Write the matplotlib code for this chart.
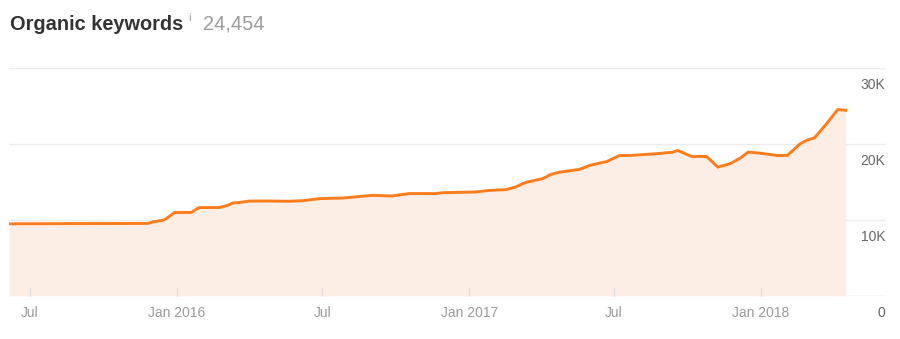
import matplotlib
matplotlib.use("Agg")
import matplotlib.pyplot as plt
import matplotlib.transforms as mtransforms
import pandas as pd

# organic keyword count
dates = ["2015-06-05", "2015-11-26", "2015-12-02", "2015-12-15", "2015-12-19",
         "2015-12-29", "2016-01-19", "2016-01-29", "2016-02-23", "2016-03-05",
         "2016-03-11", "2016-03-19", "2016-04-01", "2016-04-26", "2016-05-21",
         "2016-06-07", "2016-06-28", "2016-07-27", "2016-09-02", "2016-09-25",
         "2016-10-18", "2016-11-20", "2016-11-29", "2017-01-09", "2017-01-26",
         "2017-02-16", "2017-02-28", "2017-03-09", "2017-03-15", "2017-04-03",
         "2017-04-13", "2017-04-24", "2017-05-19", "2017-06-01", "2017-06-22",
         "2017-07-08", "2017-07-21", "2017-08-23", "2017-09-13", "2017-09-19",
         "2017-10-06", "2017-10-25", "2017-11-08", "2017-11-23", "2017-12-06",
         "2017-12-16", "2017-12-31", "2018-01-21", "2018-02-03", "2018-02-19",
         "2018-02-27", "2018-03-09", "2018-03-24", "2018-04-07", "2018-04-17"]
keywords = [9500, 9550, 9750, 9970, 10200,
            10980, 11000, 11640, 11640, 11940,
            12240, 12300, 12500, 12500, 12470,
            12550, 12820, 12900, 13250, 13160,
            13480, 13480, 13600, 13690, 13900,
            14000, 14340, 14800, 15000, 15450,
            16000, 16300, 16670, 17200, 17700,
            18500, 18500, 18730, 18940, 19160,
            18370, 18370, 16970, 17400, 18150,
            18940, 18800, 18500, 18500, 20040,
            20470, 20830, 22660, 24540, 24454]

x_ticks = ["2015-07-01", "2016-01-01", "2016-07-01", "2017-01-01", "2017-07-01", "2018-01-01"]
x_labels = ["Jul", "Jan 2016", "Jul", "Jan 2017", "Jul", "Jan 2018"]
y_ticks = [0, 10000, 20000, 30000]
y_labels = ["0", "10K", "20K", "30K"]

title = "Organic keywords"
total = "24,454"

plt.rcParams['font.family'] = ['Liberation Sans', 'DejaVu Sans']

x = pd.to_datetime(dates)
fig = plt.figure(figsize=(9, 3.39), dpi=100)
ax = fig.add_axes([0.01, 0.127, 0.974, 0.672])

ax.fill_between(x, keywords, 0, color='#fdeee5', lw=0)
ax.plot(x, keywords, color='#ff7c1c', lw=2.1, solid_joinstyle='round')

ax.set_ylim(0, 30000)
ax.set_xlim(pd.Timestamp("2015-06-05"), pd.Timestamp("2018-06-06"))

for s in ax.spines.values():
    s.set_visible(False)
for v in y_ticks:
    ax.axhline(v, color='#dddddd' if v == 0 else '#ececec', lw=1, zorder=0)

ax.set_yticks([])
ax.set_xticks(pd.to_datetime(x_ticks))
ax.set_xticklabels(x_labels)
ax.tick_params(axis='x', direction='in', length=6, width=1, color='#dddddd',
               pad=7, labelsize=10, labelcolor='#9a9a9a')

# y labels sit just under each gridline, inside the plot on the right
trans = mtransforms.blended_transform_factory(ax.transAxes, ax.transData)
trans = mtransforms.offset_copy(trans, fig=fig, x=0, y=-17, units='dots')
for v, lab in zip(y_ticks, y_labels):
    ax.text(1.0, v, lab, transform=trans, ha='right', va='center',
            fontsize=10, color='#666666')

fig.text(0.011, 0.929, title, fontsize=14.4, fontweight='bold', color='#333333',
         va='center', ha='left')
fig.text(0.209, 0.946, "i", fontsize=8, color='#999999', va='center', ha='left')
fig.text(0.225, 0.929, total, fontsize=14.4, color='#9c9c9c', va='center', ha='left')

fig.savefig("out.png", dpi=100)
